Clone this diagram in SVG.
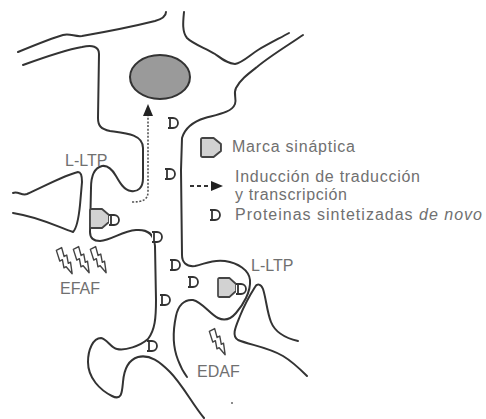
<svg xmlns="http://www.w3.org/2000/svg" width="486" height="419" viewBox="0 0 486 419">
  <style>
    .mem { fill: none; stroke: #333; stroke-width: 2; stroke-linecap: round; stroke-linejoin: round; }
    .lbl { font-family: "Liberation Sans", Arial, sans-serif; font-size: 16px; fill: #707070; }
    .tag { fill: #d2d2d2; stroke: #444; stroke-width: 1.8; stroke-linejoin: round; }
    .prot { fill: #fff; stroke: #333; stroke-width: 1.8; stroke-linejoin: round; }
    .bolt { fill: #fff; stroke: #444; stroke-width: 1.4; stroke-linejoin: round; }
    .induce { fill: none; stroke: #555; stroke-width: 1.6; stroke-dasharray: 2 1.6; }
  </style>
  <defs>
    <!-- synaptic tag: box with a pointed right side -->
    <path id="tagShape" d="M0,1.5 Q0,0 1.5,0 H12 L19,6 V13 L12,19 H1.5 Q0,19 0,17.5 Z"/>
    <!-- newly synthesised protein marker -->
    <path id="protShape" d="M-5,-5 H0 A5,5 0 0 1 0,5 H-5 M-3,-5 V5"/>
    <!-- stimulation bolt, pointing along +y -->
    <path id="boltShape" d="M-3,0 L3,0 L1,9 L4,9 L1.5,17 L4,17 L0,28 L-2,19 L-4.5,19 L-2,11 L-5,11 Z"/>
  </defs>

  <rect width="486" height="419" fill="#fff"/>

  <!-- neuron outlines -->
  <g id="connectors">
    <path id="dendrite-top-upper" class="mem" d="M18,52 C35,45 52,38 63,35 C70,33 75,37 82,36 C105,32 135,26 155,21 C162,19 166,16 166,12"/>
    <path id="soma-left-edge" class="mem" d="M23,65 C45,57 65,50 82,47 C92,45 99,46 99,54 L98,118 C98,126 101,129 110,131 C125,133 143,134 143,148 L143,178 C143,188 138,192 131,191 C124,190 120,183 116,176 C112,169 108,165 102,166 C94,168 91,176 91,188 L90,232 C90,238 94,241 100,241 C112,240 122,231 136,230 C148,229 154,234 155,246 L156,300 C156,318 155,330 148,339 C140,346 125,351 117,349 C111,348 107,339 101,338 C93,338 88,350 88,362 C88,378 100,390 112,396 C122,401 122,392 123,382 C124,370 128,360 138,357 C150,354 160,362 170,372 C182,384 193,405 204,418"/>
    <path id="soma-top-right" class="mem" d="M184,12 C183,22 182,32 187,38 C193,44 205,48 215,54 C222,59 228,64 235,64 C242,63 250,55 258,50 C268,44 280,38 289,33"/>
    <path id="soma-right-edge" class="mem" d="M303,35 C290,44 270,56 257,67 C248,74 240,80 236,88 C233,94 237,99 235,104 C232,112 220,114 205,118 C192,122 185,128 182,138 L181,170 L182,255 C182,262 186,267 195,266 C205,264 212,259 225,261 C238,263 249,270 250,280 C251,292 243,305 236,313 C230,320 224,321 218,318 C210,314 202,302 193,300 C184,299 178,306 176,316 C173,330 172,345 178,360 C181,368 184,373 187,377"/>
    <path id="axon-left" class="mem" d="M13,193 C18,191 22,196 27,194 C45,186 65,175 78,172 C82,172 82,178 82,182 L80,205 C79,215 77,228 73,232 C60,228 40,217 13,213"/>
    <path id="axon-right" class="mem" d="M298,341 C285,338 275,332 271,322 C267,312 266,298 263,289 C261,284 257,283 255,287 C250,295 244,306 240,316 C236,326 231,336 238,340 C250,345 268,347 283,356 C293,362 300,369 307,376"/>
    <!-- induction of translation/transcription towards the nucleus -->
    <path id="induction-arrow" class="induce" d="M132,202 C142,202 148,200 148,192 L148,116"/>
    <polygon points="148,104 143,116 153,116" fill="#222"/>
  </g>

  <!-- nucleus -->
  <g id="nucleus">
    <ellipse cx="160" cy="77" rx="30" ry="22" fill="#9a9a9a" stroke="#333" stroke-width="2"/>
  </g>

  <!-- synapse with L-LTP on the upper spine -->
  <g id="synapse-left">
    <use href="#tagShape" class="tag" transform="translate(90,209)"/>
    <text class="lbl" x="65" y="166">L-LTP</text>
  </g>

  <!-- synapse with L-LTP on the lower spine -->
  <g id="synapse-right">
    <use href="#tagShape" class="tag" transform="translate(218,278) scale(0.95,1)"/>
    <text class="lbl" x="251" y="271">L-LTP</text>
  </g>

  <!-- proteins made de novo, spread along the dendrite -->
  <g id="proteins">
    <use href="#protShape" class="prot" transform="translate(173,123)"/>
    <use href="#protShape" class="prot" transform="translate(170,174)"/>
    <use href="#protShape" class="prot" transform="translate(114,220)"/>
    <use href="#protShape" class="prot" transform="translate(157,237)"/>
    <use href="#protShape" class="prot" transform="translate(175,265)"/>
    <use href="#protShape" class="prot" transform="translate(193,282)"/>
    <use href="#protShape" class="prot" transform="translate(165,300)"/>
    <use href="#protShape" class="prot" transform="translate(152,346)"/>
    <use href="#protShape" class="prot" transform="translate(241,289)"/>
  </g>

  <!-- strong stimulation of the first pathway -->
  <g id="efaf">
    <use href="#boltShape" class="bolt" transform="translate(59,249) rotate(-28)"/>
    <use href="#boltShape" class="bolt" transform="translate(76,248) rotate(-28)"/>
    <use href="#boltShape" class="bolt" transform="translate(93,248) rotate(-28)"/>
    <text class="lbl" x="60" y="294">EFAF</text>
  </g>

  <!-- stimulation of the second pathway -->
  <g id="edaf">
    <use href="#boltShape" class="bolt" transform="translate(212,330) rotate(-28)"/>
    <text class="lbl" x="197" y="377">EDAF</text>
  </g>

  <circle cx="232" cy="403" r="1" fill="#666"/>

  <!-- key -->
  <g id="legend">
    <use href="#tagShape" class="tag" transform="translate(201,138) scale(1.05,1)"/>
    <text class="lbl" x="232" y="152" textLength="123" lengthAdjust="spacing">Marca sináptica</text>
    <line x1="190" y1="186" x2="210" y2="186" stroke="#333" stroke-width="1.8" stroke-dasharray="4 3"/>
    <polygon points="211,181 223,186 211,191" fill="#222"/>
    <text class="lbl" x="235" y="182" textLength="185" lengthAdjust="spacing">Inducción de traducción</text>
    <text class="lbl" x="235" y="200" textLength="112" lengthAdjust="spacing">y transcripción</text>
    <use href="#protShape" class="prot" transform="translate(215,215)"/>
    <text class="lbl" x="235" y="220" textLength="247" lengthAdjust="spacing">Proteinas sintetizadas <tspan font-style="italic">de novo</tspan></text>
  </g>
</svg>
